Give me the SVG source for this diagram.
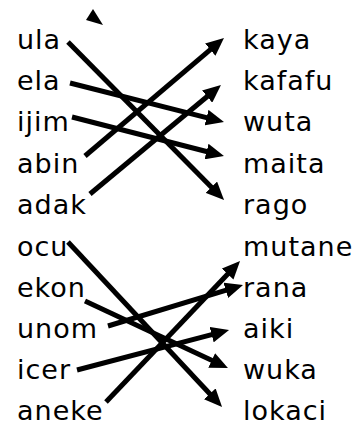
<svg xmlns="http://www.w3.org/2000/svg" width="358" height="425" viewBox="0 0 358 425">
<style>
text{font-family:"DejaVu Sans","Noto Sans",sans-serif;font-size:27px;fill:#000;letter-spacing:1px}
.c line{stroke:#000;stroke-width:5;marker-end:url(#ah)}
</style>
<defs>
<marker id="ah" markerUnits="userSpaceOnUse" markerWidth="18" markerHeight="16" refX="4" refY="8" orient="auto" viewBox="0 0 18 16">
<path d="M0,0 L18,8 L0,16 z" fill="#000"/>
</marker>
</defs>
<rect width="358" height="425" fill="#fff"/>
<g id="left">
<g id="n-ula"><text x="17" y="49">ula</text></g>
<g id="n-ela"><text x="17" y="90">ela</text></g>
<g id="n-ijim"><text x="17" y="131">ijim</text></g>
<g id="n-abin"><text x="17" y="173">abin</text></g>
<g id="n-adak"><text x="17" y="214">adak</text></g>
<g id="n-ocu"><text x="17" y="256">ocu</text></g>
<g id="n-ekon"><text x="17" y="297">ekon</text></g>
<g id="n-unom"><text x="17" y="338">unom</text></g>
<g id="n-icer"><text x="17" y="379">icer</text></g>
<g id="n-aneke"><text x="17" y="420">aneke</text></g>
</g>
<g id="right">
<g id="n-kaya"><text x="243" y="49">kaya</text></g>
<g id="n-kafafu"><text x="243" y="90">kafafu</text></g>
<g id="n-wuta"><text x="243" y="131">wuta</text></g>
<g id="n-maita"><text x="243" y="173">maita</text></g>
<g id="n-rago"><text x="243" y="214">rago</text></g>
<g id="n-mutane"><text x="243" y="256">mutane</text></g>
<g id="n-rana"><text x="243" y="297">rana</text></g>
<g id="n-aiki"><text x="243" y="338">aiki</text></g>
<g id="n-wuka"><text x="243" y="379">wuka</text></g>
<g id="n-lokaci"><text x="243" y="420">lokaci</text></g>
</g>
<g id="connectors" class="c">
<polygon points="93,9 86,20 103,25" fill="#000"/>
<line x1="68" y1="42" x2="214.2" y2="190"/>
<line x1="70" y1="83" x2="210.4" y2="118.6"/>
<line x1="72" y1="117" x2="210.4" y2="152.5"/>
<line x1="85" y1="156" x2="213.3" y2="47.1"/>
<line x1="90" y1="194" x2="210.2" y2="94"/>
<line x1="68" y1="242" x2="212.5" y2="396.8"/>
<line x1="85" y1="301" x2="215.3" y2="362.1"/>
<line x1="108" y1="326" x2="229.6" y2="289.1"/>
<line x1="77" y1="370" x2="215.5" y2="333.6"/>
<line x1="106" y1="402" x2="230.4" y2="271.2"/>
</g>
</svg>
